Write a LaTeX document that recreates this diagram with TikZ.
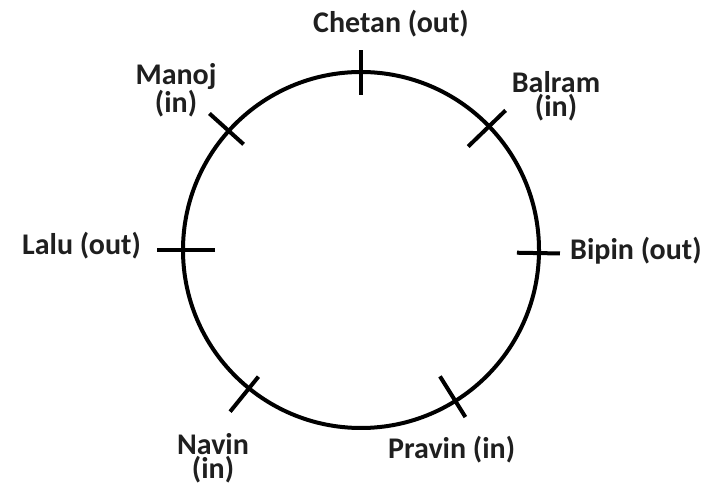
\documentclass[tikz,border=0pt]{standalone}
\usepackage{fontspec}
\setmainfont{Carlito}
\begin{document}
\begin{tikzpicture}[x=1pt,y=1pt,
  lbl/.style={inner sep=0pt, text=black!88, font=\fontsize{30}{24}\selectfont\bfseries, align=center},
  tick/.style={line width=4pt},
  ring/.style={line width=4pt}]
\useasboundingbox (0,0) rectangle (711,492);
\coordinate (c) at (361,242);
\draw[ring] (c) circle[radius=178];
% ticks (angle, inner radius, outer radius)
\draw[tick] ([shift={(c)}]90:155) coordinate (t1a) -- ([shift={(c)}]90:200) coordinate (t1b);
\draw[tick] ([shift={(c)}]44:149) coordinate (t2a) -- ([shift={(c)}]44:201) coordinate (t2b);
\draw[tick] ([shift={(c)}]-1:156) coordinate (t3a) -- ([shift={(c)}]-1:199) coordinate (t3b);
\draw[tick] ([shift={(c)}]-58:149) coordinate (t4a) -- ([shift={(c)}]-58:197) coordinate (t4b);
\draw[tick] ([shift={(c)}]-129:163) coordinate (t5a) -- ([shift={(c)}]-129:208) coordinate (t5b);
\draw[tick] ([shift={(c)}]180:146) coordinate (t6a) -- ([shift={(c)}]180:204) coordinate (t6b);
\draw[tick] ([shift={(c)}]138:158) coordinate (t7a) -- ([shift={(c)}]138:204) coordinate (t7b);
% labels
\node[lbl, anchor=base west] (chetan) at (313,459) {Chetan (out)};
\node[lbl, anchor=base] (manoj) at (176,379) {Manoj\\(in)};
\node[lbl, anchor=base] (balram) at (556,375) {Balram\\(in)};
\node[lbl, anchor=base west] (lalu) at (22,237) {Lalu (out)};
\node[lbl, anchor=base west] (bipin) at (570,232) {Bipin (out)};
\node[lbl, anchor=base] (navin) at (213,14) {Navin\\(in)};
\node[lbl, anchor=base west] (pravin) at (388,34) {Pravin (in)};
\end{tikzpicture}
\end{document}
